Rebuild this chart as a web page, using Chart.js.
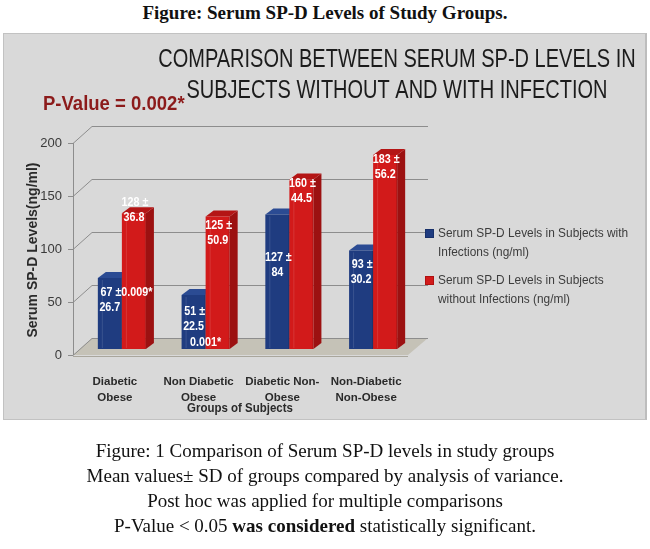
<!DOCTYPE html>
<html>
<head>
<meta charset="utf-8">
<script src="https://cdn.jsdelivr.net/npm/chart.js@4.4.0/dist/chart.umd.min.js"></script>
<style>
  html,body{margin:0;padding:0;background:#fff;}
  body{width:650px;height:549px;position:relative;overflow:hidden;}
  #figtitle{position:absolute;top:2px;left:0;width:650px;text-align:center;font:bold 19px 'Liberation Serif','Times New Roman',serif;color:#111;}
  #panel{position:absolute;left:3px;top:33px;width:641px;height:385px;background:#d9d9d9;border:1px solid #c2c2c2;border-right:2px solid #bdbdbd;}
  #c{position:absolute;left:0;top:0;}
  #caption{position:absolute;top:438px;left:0;width:650px;text-align:center;font:19px/25px 'Liberation Serif','Times New Roman',serif;color:#111;}
</style>
</head>
<body>
<div id="figtitle">Figure: Serum SP-D Levels of Study Groups.</div>
<div id="panel"></div>
<canvas id="c" width="650" height="549"></canvas>
<div id="caption">Figure: 1 Comparison of Serum SP-D levels in study groups<br>Mean values± SD of groups compared by analysis of variance.<br>Post hoc was applied for multiple comparisons<br>P-Value &lt; 0.05 <b>was considered</b> statistically significant.</div>
<script>
// ---- data ----
const categories = [["Diabetic","Obese"],["Non Diabetic","Obese"],["Diabetic Non-","Obese"],["Non-Diabetic","Non-Obese"]];
const seriesNames = [["Serum SP-D Levels in Subjects with","Infections (ng/ml)"],["Serum SP-D Levels in Subjects","without Infections (ng/ml)"]];
const withInfection = [67, 51, 127, 93];
const withoutInfection = [128, 125, 160, 183];
const sdWithInfection = [26.7, 22.5, 84, 30.2];
const sdWithoutInfection = [36.8, 50.9, 44.5, 56.2];
const groupPValues = ["0.009*", "0.001*", "", ""];
const yTicks = [0, 50, 100, 150, 200];
const chartTitle = ["COMPARISON BETWEEN SERUM SP-D LEVELS IN","SUBJECTS WITHOUT AND WITH INFECTION"];
const overallP = "P-Value = 0.002*";
const yTitle = "Serum SP-D Levels(ng/ml)";
const xTitle = "Groups of Subjects";

// ---- style ----
const SANS = "'Liberation Sans', Arial, sans-serif";
const COLORS = [
  {front:'#1f3c80', side:'#152a5b', top:'#2b4b93'},
  {front:'#d21a1a', side:'#9c1111', top:'#b41515'}
];

function txt(ctx, s, x, y, o){
  ctx.save();
  ctx.translate(x, y);
  if (o.rot) ctx.rotate(o.rot);
  ctx.scale(o.hs || 1, 1);
  ctx.font = (o.weight || 'normal') + ' ' + o.size + 'px ' + (o.family || SANS);
  ctx.fillStyle = o.color || '#222';
  ctx.textAlign = o.align || 'center';
  ctx.textBaseline = 'middle';
  ctx.fillText(s, 0, 0);
  ctx.restore();
}
function line(ctx, x1, y1, x2, y2){ ctx.beginPath(); ctx.moveTo(x1, y1); ctx.lineTo(x2, y2); ctx.stroke(); }
function poly(ctx, pts, fill){ ctx.beginPath(); ctx.moveTo(pts[0][0], pts[0][1]); for (let i=1;i<pts.length;i++) ctx.lineTo(pts[i][0], pts[i][1]); ctx.closePath(); ctx.fillStyle = fill; ctx.fill(); }

const threeD = {
  id: 'threeD',
  beforeDatasetsDraw(chart){
    const {ctx, chartArea: a, scales: {y}} = chart;
    const fx = a.left - 7, fOff = 6, bx = a.left + 12, bOff = -11, bxr = a.right + 13, fxr = a.right - 7;
    const p0 = y.getPixelForValue(0), pTop = y.getPixelForValue(y.max);
    ctx.save();
    // floor
    poly(ctx, [[fx, p0+fOff],[bx, p0+bOff],[bxr, p0+bOff],[fxr, p0+fOff]], '#c5c2b7');
    ctx.lineWidth = 1;
    ctx.strokeStyle = '#a9a69c';
    line(ctx, fx, p0+fOff+1.5, fxr, p0+fOff+1.5);
    // grid lines (back wall) + slants + ticks
    ctx.strokeStyle = '#8d8d8d';
    y.ticks.forEach(t => {
      const p = y.getPixelForValue(t.value);
      line(ctx, bx, p+bOff+0.5, bxr, p+bOff+0.5);
      line(ctx, fx, p+fOff+0.5, bx, p+bOff+0.5);
      line(ctx, fx-5, p+fOff+0.5, fx, p+fOff+0.5);
    });
    line(ctx, fx+0.5, pTop+fOff, fx+0.5, p0+fOff);
    // bars
    const dx = 8, dy = -6;
    const n = chart.data.labels.length;
    for (let j = 0; j < n; j++){
      chart.data.datasets.forEach((ds, i) => {
        const el = chart.getDatasetMeta(i).data[j];
        const {x, y: top, base, width} = el.getProps(['x','y','base','width'], true);
        const x0 = x - width/2, x1 = x + width/2;
        const c = COLORS[i];
        poly(ctx, [[x1, top],[x1+dx, top+dy],[x1+dx, base+dy],[x1, base]], c.side);
        poly(ctx, [[x0, top],[x0+dx, top+dy],[x1+dx, top+dy],[x1, top]], c.top);
        poly(ctx, [[x0, top],[x1, top],[x1, base],[x0, base]], c.front);
        ctx.strokeStyle = 'rgba(255,255,255,0.12)';
        line(ctx, x0+4.5, top+2, x0+4.5, base-1);
        ctx.strokeStyle = 'rgba(0,0,0,0.15)';
        line(ctx, x1-0.5, top, x1-0.5, base);
      });
    }
    // value labels
    const labelOff = [[15, 17, 43, 14], [-11, 9, 4, 5]];
    const sds = [sdWithInfection, sdWithoutInfection];
    const lf = {size: 12.5, weight: 'bold', color: '#ffffff', hs: 0.86};
    for (let j = 0; j < n; j++){
      let blueLine1 = 0;
      chart.data.datasets.forEach((ds, i) => {
        const el = chart.getDatasetMeta(i).data[j];
        const {x, y: top} = el.getProps(['x','y'], true);
        const y1 = top + labelOff[i][j];
        if (i === 0) blueLine1 = y1;
        txt(ctx, ds.data[j] + ' \u00b1', x + 1, y1, lf);
        txt(ctx, String(sds[i][j]), x, y1 + 15, lf);
      });
      if (groupPValues[j]){
        const red = chart.getDatasetMeta(1).data[j].getProps(['x'], true);
        const blue = chart.getDatasetMeta(0).data[j].getProps(['x'], true);
        if (j === 0) txt(ctx, groupPValues[j], red.x + 3, blueLine1, lf);
        else txt(ctx, groupPValues[j], (red.x + blue.x)/2, blueLine1 + 31, lf);
      }
    }
    ctx.restore();
    return false;
  },
  afterDraw(chart){
    const {ctx, chartArea: a} = chart;
    // chart title
    txt(ctx, chartTitle[0], 397, 60, {size: 25, color: '#1c1c1c', hs: 0.80});
    txt(ctx, chartTitle[1], 397, 91, {size: 25, color: '#1c1c1c', hs: 0.80});
    // overall p-value
    txt(ctx, overallP, 43, 105, {size: 19.5, weight: 'bold', color: '#8c1b1b', hs: 0.95, align: 'left'});
    // axis titles
    txt(ctx, yTitle, 33, (a.top + a.bottom)/2 + 7, {size: 14, weight: 'bold', color: '#2a2a2a', rot: -Math.PI/2});
    txt(ctx, xTitle, 240, a.bottom + 59, {size: 13.5, weight: 'bold', color: '#2a2a2a', hs: 0.85});
    // legend
    chart.data.datasets.forEach((ds, i) => {
      const cy = 234 + i*47;
      ctx.save();
      ctx.fillStyle = COLORS[i].front;
      ctx.fillRect(425, cy - 5, 9, 9);
      ctx.strokeStyle = i === 0 ? '#17306a' : '#b01010';
      ctx.lineWidth = 1;
      ctx.strokeRect(425.5, cy - 4.5, 8, 8);
      ctx.restore();
      seriesNames[i].forEach((s, k) => txt(ctx, s, 438, cy + k*19, {size: 12.5, color: '#3c3c3c', hs: 0.95, align: 'left'}));
    });
  }
};

const ctx = document.getElementById('c').getContext('2d');
new Chart(ctx, {
  type: 'bar',
  data: {
    labels: categories,
    datasets: [
      {label: seriesNames[0].join(' '), data: withInfection, backgroundColor: COLORS[0].front},
      {label: seriesNames[1].join(' '), data: withoutInfection, backgroundColor: COLORS[1].front}
    ]
  },
  options: {
    responsive: false,
    animation: false,
    events: [],
    layout: {padding: {left: 10, right: 235, top: 137, bottom: 140}},
    datasets: {bar: {categoryPercentage: 0.574, barPercentage: 1}},
    plugins: {legend: {display: false}, tooltip: {enabled: false}, title: {display: false}},
    scales: {
      x: {
        grid: {display: false, drawTicks: false},
        border: {display: false},
        ticks: {padding: 24, labelOffset: -7, autoSkip: false, maxRotation: 0, minRotation: 0, color: '#2a2a2a', font: {family: SANS, size: 11.5, weight: 'bold', lineHeight: 1.45}},
        afterFit: s => { s.height = 60; }
      },
      y: {
        min: 0, max: 200,
        afterBuildTicks: s => { s.ticks = yTicks.map(v => ({value: v})); },
        grid: {display: false, drawTicks: false},
        border: {display: false},
        ticks: {padding: 18, labelOffset: 6, color: '#3a3a3a', font: {family: SANS, size: 13}},
        afterFit: s => { s.width = 70; }
      }
    }
  },
  plugins: [threeD]
});
</script>
</body>
</html>
